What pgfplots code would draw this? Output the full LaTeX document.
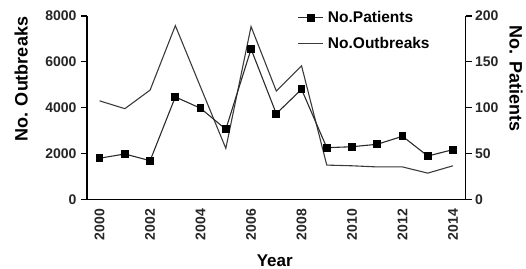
\documentclass[border=0pt]{standalone}
\usepackage{pgfplots}
\pgfplotsset{compat=1.18}
\usepackage{fontspec}
\setmainfont{Liberation Sans}
\definecolor{lineA}{HTML}{2A2A2A}
\definecolor{lineB}{HTML}{3A3A3A}
\begin{document}
\begin{tikzpicture}
\pgfplotsset{
  common/.style={
    scale only axis, width=378.6bp, height=183.5bp,
    xmin=1999.5, xmax=2014.5,
    axis line style={black, line width=1.1pt},
    tick style={black, line width=1.1pt},
    major tick length=6bp, minor tick length=6bp,
    tick align=outside,
    ticklabel style={font=\fontsize{14bp}{16bp}\selectfont\bfseries, text=black!85},
    /pgf/number format/assume math mode=true,
    /pgf/number format/1000 sep={},
    label style={font=\fontsize{18bp}{20bp}\selectfont\bfseries},
  }
}
\begin{axis}[common,
  axis x line*=bottom, axis y line*=left,
  ymin=0, ymax=8000, ytick={0,2000,...,8000},
  xtick={2000,2002,...,2014},
  xtick style={draw=none},
  minor xtick={1999.5,2000.5,...,2014.5},
  minor x tick style={black, line width=1.1pt},
  xticklabel style={rotate=90, anchor=east},
  xlabel={Year},
  xlabel style={font=\fontsize{17bp}{19bp}\selectfont\bfseries, at={(axis description cs:0.496,-0.332)}, anchor=center},
  ylabel={No. Outbreaks},
  ylabel style={at={(axis description cs:-0.174,0.655)}, anchor=center, rotate=0},
  yticklabel style={xshift=-1bp},
]
\addplot[lineB, line width=1.1pt, no marks] coordinates {
 (2000,4300) (2001,3960) (2002,4770) (2003,7580) (2004,4900) (2005,2230)
 (2006,7540) (2007,4730) (2008,5830) (2009,1500) (2010,1470) (2011,1420)
 (2012,1420) (2013,1150) (2014,1470)};
\end{axis}
\begin{axis}[common,
  axis x line=none, axis y line*=right,
  ymin=0, ymax=200, ytick={0,50,...,200},
  ylabel={No. Patients},
  ylabel style={at={(axis description cs:1.133,0.66)}, anchor=center, rotate=180},
  legend style={draw=none, fill=none, at={(axis description cs:0.557,1.025)}, anchor=north west,
    font=\fontsize{15.5bp}{17bp}\selectfont\bfseries, row sep=13bp,
    inner sep=0pt, outer sep=0pt,
    nodes={inner xsep=4bp, inner ysep=0pt}},
  legend cell align=left,
  legend image code/.code={%
    \draw[mark repeat=2, mark phase=2, #1] plot coordinates {(0bp,0bp) (12.5bp,0bp) (25bp,0bp)};},
  legend image post style={line width=1.1pt},
]
\addplot[lineA, line width=1.1pt, mark=square*, mark size=3.3bp, mark options={solid, fill=black, draw=black}] coordinates {
 (2000,45) (2001,49.6) (2002,42.3) (2003,111.8) (2004,99.4) (2005,76.5)
 (2006,164) (2007,93.5) (2008,120.1) (2009,56.5) (2010,57.5) (2011,60.2)
 (2012,68.9) (2013,47.4) (2014,54.3)};
\addlegendentry{No.Patients}
\addlegendimage{lineB, line width=1.1pt, no marks}
\addlegendentry{No.Outbreaks}
\end{axis}
\pgfresetboundingbox
\path[use as bounding box] (-87bp,-69.5bp) rectangle (439bp,199.5bp);
\end{tikzpicture}
\end{document}
